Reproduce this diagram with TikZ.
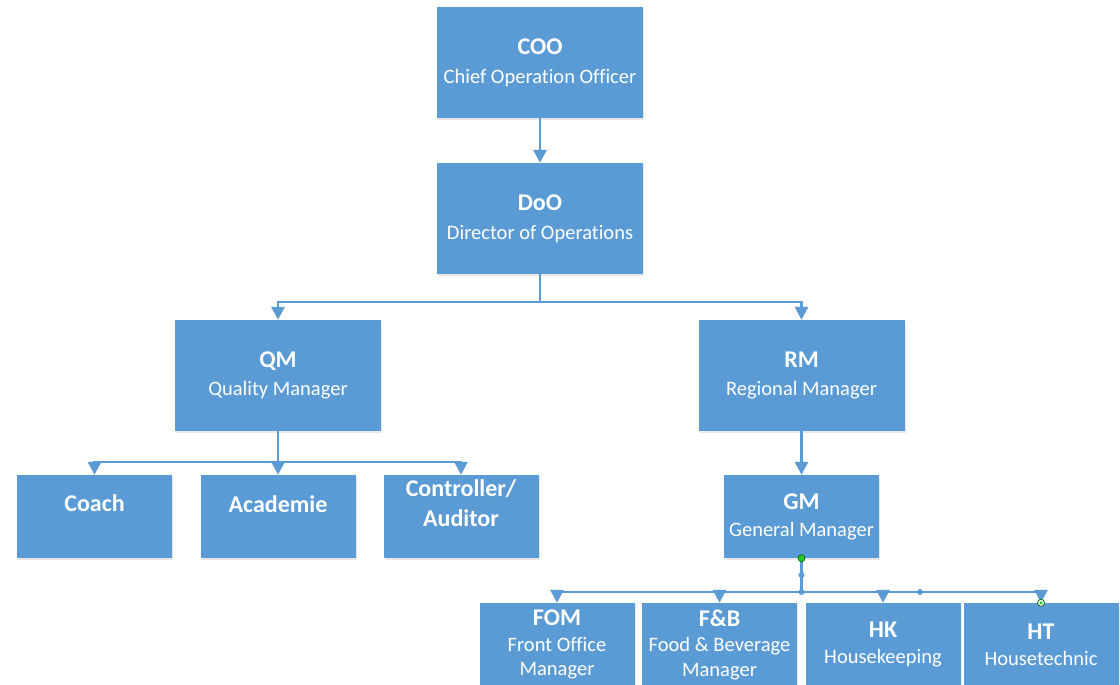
\documentclass[tikz,border=0pt]{standalone}
\usepackage{fontspec}
\setmainfont{Carlito}[Ligatures={NoCommon}]
\usetikzlibrary{arrows.meta,shadows}
\definecolor{boxblue}{RGB}{91,155,213}
\definecolor{lineblue}{RGB}{91,155,213}
\definecolor{hgreen}{RGB}{40,200,40}
\definecolor{hdark}{RGB}{20,110,20}
\newcommand\ttl[1]{{\fontsize{24}{27}\selectfont\bfseries #1}}
\tikzset{
  box/.style={draw=none, fill=boxblue, inner sep=0pt, text=white, align=center,
    font=\fontsize{20.5}{24.5}\selectfont,
    drop shadow={shadow xshift=1pt, shadow yshift=-1.5pt, opacity=0.18}},
  bigbox/.style={box, minimum width=206pt, minimum height=111pt},
  smallbox/.style={box, minimum width=155pt, minimum height=83pt},
  lbl/.style={text=white, align=center, font=\fontsize{24}{30}\selectfont\bfseries},
  conn/.style={draw=lineblue, line width=2.8pt},
  arr/.style={conn, -{Triangle[width=13pt,length=13pt]}},
  handle/.style={circle, inner sep=0pt, minimum size=7pt},
}
\begin{document}
\begin{tikzpicture}[x=1pt,y=-1pt]
\useasboundingbox (0,0) rectangle (1120,685);
\clip (0,0) rectangle (1120,685);
\fill[white] (0,0) rectangle (1120,685);
% boxes
\node[bigbox] (coo) at (540,62.5) {\ttl{COO}\\[4.5pt]Chief Operation Officer};
\node[bigbox] (doo) at (540,218.5) {\ttl{DoO}\\[4.5pt]Director of Operations};
\node[bigbox] (qm) at (278,375.5) {\ttl{QM}\\[3.5pt]Quality Manager};
\node[bigbox] (rm) at (801.5,375.5) {\ttl{RM}\\[3.5pt]Regional Manager};
\node[smallbox, label={[lbl,yshift=13pt]center:Coach}] (coach) at (94.5,516.5) {};
\node[smallbox, label={[lbl,yshift=12.5pt]center:Academie}] (acad) at (278,516.5) {};
\node[smallbox, label={[lbl,yshift=13pt]center:Controller/\\Auditor}] (ctrl) at (461,516.5) {};
\node[smallbox] (gm) at (801.5,516.5) {\ttl{GM}\\[2.5pt]General Manager};
\node[smallbox] (fom) at (557,644.5) {\ttl{FOM}\\[1pt]Front Office\\Manager};
\node[smallbox] (fb) at (719.5,644.5) {\ttl{F\&B}\\[1pt]Food \& Beverage\\Manager};
\node[smallbox] (hk) at (883,644.5) {\ttl{HK}\\[1.5pt]Housekeeping};
\node[smallbox] (ht) at (1041,644.5) {\ttl{HT}\\[1.5pt]Housetechnic};
% branch points
\coordinate (b1) at (540,302);
\coordinate (b2) at (278,462);
\coordinate (b3) at (801.5,592);
% connectors
\draw[arr] (coo.south) -- (doo.north);
\draw[conn] (doo.south) -- (b1);
\draw[arr] (b1) -| (qm.north);
\draw[arr] (b1) -| (rm.north);
\draw[conn] (qm.south) -- (b2);
\draw[arr] (b2) -| (coach.north);
\draw[arr] (b2) -- (acad.north);
\draw[arr] (b2) -| (ctrl.north);
\draw[arr] (rm.south) -- (gm.north);
\draw[conn] (gm.south) -- (b3);
\draw[arr] (b3) -| (fom.north);
\draw[arr] (b3) -| (fb.north);
\draw[arr] (b3) -| (hk.north);
\draw[arr] (b3) -| (ht.north);
% editing handles
\node[handle, fill=hgreen, draw=hdark, line width=0.8pt] (h1) at (gm.south) {};
\node[handle, fill=lineblue, minimum size=6pt] (h2) at (801.5,575) {};
\node[handle, fill=lineblue, minimum size=6pt] (h3) at (b3) {};
\node[handle, fill=lineblue, minimum size=6pt] (h4) at (920,592) {};
\node[handle, fill=white, draw=hdark, line width=0.8pt] (h5) at (ht.north) {};
\node[circle, inner sep=0pt, minimum size=3.5pt, fill=hgreen] (h5c) at (h5) {};
\end{tikzpicture}
\end{document}
